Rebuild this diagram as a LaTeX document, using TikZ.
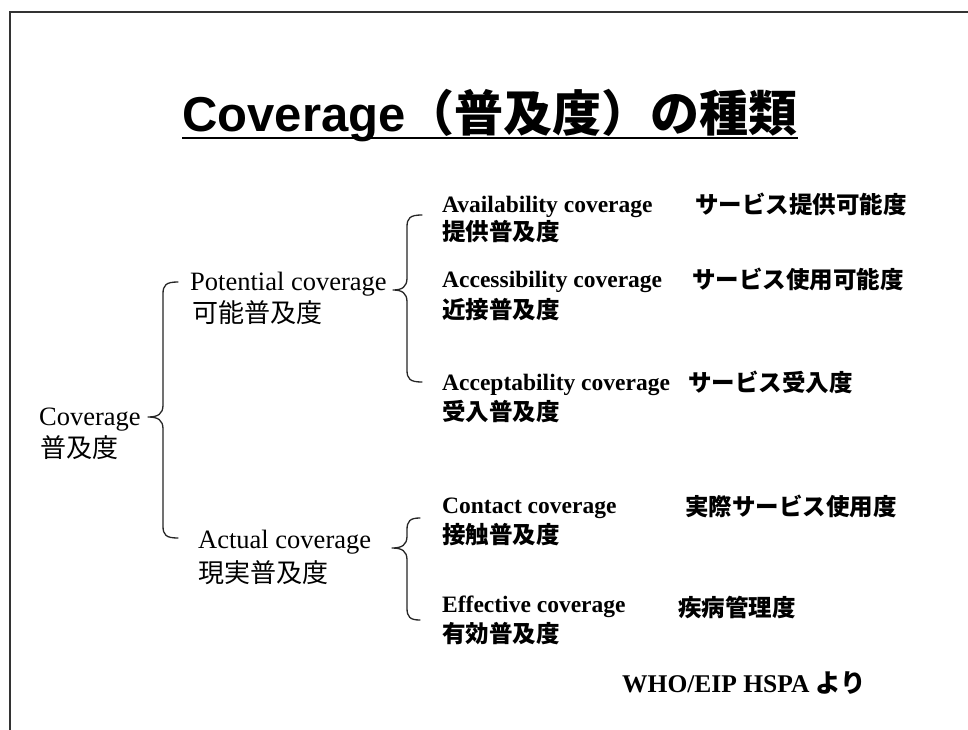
\documentclass[tikz,border=0pt]{standalone}
\usepackage{fontspec}
\setmainfont{Liberation Serif}
\newfontfamily\jp{Noto Sans CJK JP}
\newfontfamily\titlesans{Liberation Sans}
\tikzset{
  lvl/.style={inner sep=0pt, anchor=base west, font=\fontsize{26.5}{30}\selectfont},
  lvljp/.style={inner sep=0pt, anchor=base west, font=\jp\fontsize{26}{30}\selectfont},
  item/.style={inner sep=0pt, anchor=base west, font=\bfseries\fontsize{23.5}{28}\selectfont},
  itemjp/.style={inner sep=0pt, anchor=base west, font=\jp\bfseries\fontsize{23.5}{28}\selectfont},
  titlestyle/.style={inner sep=0pt, anchor=base, font=\titlesans\bfseries\fontsize{49}{55}\selectfont},
  bracestyle/.style={line width=1.3pt, line join=round, line cap=round, black!85},
  framestyle/.style={line width=1.6pt, black!80},
}
\newcommand\curlybrace[7]{% name xe xv xt yt ym yb
  \coordinate (#1-top) at (#2,#5);
  \coordinate (#1-tip) at (#4,#6);
  \coordinate (#1-bot) at (#2,#7);
  \draw[bracestyle] (#1-top) .. controls (#3+3,#5) and (#3,#5+3) .. (#3,#5+12)
    -- (#3,#6-12) .. controls (#3,#6-3) and (#3-5,#6) .. (#1-tip)
    .. controls (#3-5,#6) and (#3,#6+3) .. (#3,#6+12)
    -- (#3,#7-12) .. controls (#3,#7-3) and (#3+3,#7) .. (#1-bot);}
\begin{document}
\begin{tikzpicture}[x=1pt, y=-1pt]
\useasboundingbox[fill=white] (0,0) rectangle (968,730);
% frame
\coordinate (fa) at (10,730);
\coordinate (fb) at (10,12);
\coordinate (fc) at (968,12);
\draw[framestyle] (fa) -- (fb) -- (fc);
% title
\node[titlestyle] (ttl) at (490,132) {Coverage{\jp（普及度）の種類}};
\draw[line width=2.5pt] ([yshift=-6pt]ttl.base west) -- ([yshift=-6pt]ttl.base east);
% level 0
\node[lvl] (cov) at (39,425) {Coverage};
\node[lvljp] (covjp) at (40,457) {普及度};
\curlybrace{b0}{178}{163}{148}{282}{417}{538}
% level 1
\node[lvl] (pot) at (190,290) {Potential coverage};
\node[lvljp] (potjp) at (192,322) {可能普及度};
\curlybrace{b1}{422}{407}{393}{215}{290}{382}
\node[lvl] (act) at (198,548) {Actual coverage};
\node[lvljp] (actjp) at (198,582) {現実普及度};
\curlybrace{b2}{420}{407}{392}{518}{548}{620}
% level 2
\node[item] (avail) at (442,212) {Availability coverage};
\node[itemjp] (availjp) at (442,240) {提供普及度};
\node[itemjp] (availr) at (695,213) {サービス提供可能度};
\node[item] (access) at (442,287) {Accessibility coverage};
\node[itemjp] (accessjp) at (442,318) {近接普及度};
\node[itemjp] (accessr) at (692,288) {サービス使用可能度};
\node[item] (accept) at (442,390) {Acceptability coverage};
\node[itemjp] (acceptjp) at (442,420) {受入普及度};
\node[itemjp] (acceptr) at (688,391) {サービス受入度};
\node[item] (contact) at (442,513) {Contact coverage};
\node[itemjp] (contactjp) at (442,543) {接触普及度};
\node[itemjp] (contactr) at (685,515) {実際サービス使用度};
\node[item] (effect) at (442,612) {Effective coverage};
\node[itemjp] (effectjp) at (442,642) {有効普及度};
\node[itemjp] (effectr) at (678,616) {疾病管理度};
% source
\node[inner sep=0pt, anchor=base west, font=\bfseries\fontsize{25.5}{30}\selectfont] (src) at (622,692) {WHO/EIP HSPA {\jp より}};
\end{tikzpicture}
\end{document}
